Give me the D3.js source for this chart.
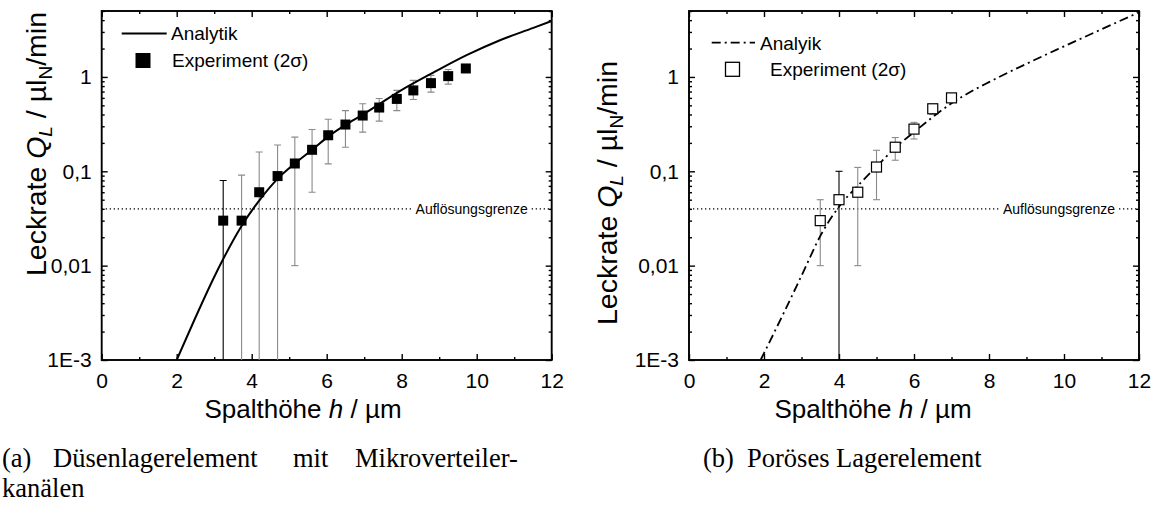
<!DOCTYPE html>
<html>
<head>
<meta charset="utf-8">
<script src="https://cdn.jsdelivr.net/npm/d3@7"></script>
<style>
  body { margin: 0; background: #fff; }
  svg { display: block; }
</style>
</head>
<body>
<svg id="fig" width="1158" height="512"></svg>
<script>
// ---- Axis ticks -------------------------------------------------------
const xMajorTicks = [0, 2, 4, 6, 8, 10, 12];
const xMinorTicks = [1, 3, 5, 7, 9, 11];
const yMajorTicks = [0.001, 0.01, 0.1, 1];
const yTickLabels = ["1E-3", "0,01", "0,1", "1"];
const resolutionLimit = 0.04;   // Auflösungsgrenze

// ---- (a) Düsenlagerelement: measurement (2σ bars; lower bound 0 = below scale)
const hA  = [3.24, 3.73, 4.2, 4.69, 5.15, 5.61, 6.04, 6.5, 6.96, 7.4, 7.87, 8.31, 8.78, 9.24, 9.71];
const qA  = [0.03, 0.03, 0.06, 0.089, 0.121, 0.169, 0.241, 0.313, 0.39, 0.474, 0.585, 0.72, 0.86, 1.02, 1.23];
const upA = [0.08, 0.091, 0.16, 0.19, 0.23, 0.277, 0.356, 0.44, 0.52, 0.59, 0.72, 0.92, 1.04, 1.2, 1.27];
const loA = [0, 0, 0, 0, 0.01, 0.06, 0.12, 0.18, 0.26, 0.34, 0.44, 0.576, 0.69, 0.84, 1.19];
// (a) analytical leak rate
const curveAh = [2.0, 2.5, 3.0, 3.24, 3.73, 4.2, 4.69, 5.15, 5.61, 6.04, 6.5, 6.96, 7.95, 8.84, 9.73, 10.62, 11.51, 12.0];
const curveAq = [0.001, 0.00282, 0.00759, 0.01175, 0.0263, 0.049, 0.0832, 0.121, 0.169, 0.233, 0.31, 0.398, 0.708, 1.11, 1.70, 2.45, 3.31, 3.92];

// ---- (b) Poröses Lagerelement
const hB  = [3.5, 4.0, 4.5, 5.0, 5.5, 6.0, 6.5, 7.0];
const qB  = [0.03, 0.05, 0.06, 0.111, 0.18, 0.28, 0.46, 0.6];
const upB = [0.05, 0.1, 0.11, 0.167, 0.228, 0.33, 0.51, 0.63];
const loB = [0.01, 0, 0.01, 0.05, 0.131, 0.22, 0.40, 0.57];
const curveBh = [1.91, 2.5, 3.0, 3.51, 4.01, 4.51, 5.0, 5.5, 6.0, 6.5, 7.0, 7.5, 8.0, 9.0, 10.0, 11.0, 12.0];
const curveBq = [0.001, 0.0030, 0.0078, 0.0209, 0.0427, 0.0708, 0.112, 0.178, 0.260, 0.376, 0.525, 0.692, 0.881, 1.38, 2.11, 3.20, 4.84];

// ---- Layout ------------------------------------------------------------
const SANS = "Arial, 'Liberation Sans', Helvetica, sans-serif";
const SERIF = "'Times New Roman', 'Liberation Serif', Times, serif";
const PLOT_W = 450, PLOT_TOP = 11, PLOT_BOTTOM = 360;

const svg = d3.select("#fig");
svg.append("rect").attr("width", 1158).attr("height", 512).attr("fill", "#fff");

const yMinorTicks = [];
[-3, -2, -1, 0].forEach(k => {
  for (let m = 2; m <= 9; m++) {
    const v = m * Math.pow(10, k);
    if (v <= 5) yMinorTicks.push(+v.toPrecision(3));
  }
});

function styleAxis(sel, fontSize) {
  sel.select(".domain").remove();
  sel.selectAll("line").attr("stroke", "#000").attr("stroke-width", 1.4);
  sel.selectAll("text").attr("font-family", SANS).attr("font-size", fontSize).attr("fill", "#000");
}

function drawPanel(cfg) {
  const x = d3.scaleLinear().domain([0, 12]).range([cfg.left, cfg.left + PLOT_W]);
  const y = d3.scaleLog().domain([1e-3, 5]).range([PLOT_BOTTOM, PLOT_TOP]);
  const g = svg.append("g");
  const yBottom = y.range()[0];
  const yOf = v => (v > 0 && v >= 1e-3) ? y(v) : yBottom;

  const clipId = "clip-" + cfg.id;
  g.append("clipPath").attr("id", clipId).append("rect")
    .attr("x", cfg.left).attr("y", PLOT_TOP).attr("width", PLOT_W).attr("height", PLOT_BOTTOM - PLOT_TOP);

  // axes with inward ticks on all four sides
  g.append("g").attr("transform", `translate(0,${PLOT_BOTTOM})`)
    .call(d3.axisBottom(x).tickValues(xMajorTicks).tickSize(-6).tickPadding(13).tickFormat(d3.format("d")))
    .call(s => styleAxis(s, 21));
  g.append("g").attr("transform", `translate(0,${PLOT_BOTTOM})`)
    .call(d3.axisBottom(x).tickValues(xMinorTicks).tickSize(-3).tickFormat(""))
    .call(s => styleAxis(s, 21));
  g.append("g").attr("transform", `translate(0,${PLOT_TOP})`)
    .call(d3.axisTop(x).tickValues(xMajorTicks).tickSize(-6).tickFormat(""))
    .call(s => styleAxis(s, 21));
  g.append("g").attr("transform", `translate(0,${PLOT_TOP})`)
    .call(d3.axisTop(x).tickValues(xMinorTicks).tickSize(-3).tickFormat(""))
    .call(s => styleAxis(s, 21));
  g.append("g").attr("transform", `translate(${cfg.left},0)`)
    .call(d3.axisLeft(y).tickValues(yMajorTicks).tickSize(-6).tickPadding(10)
      .tickFormat(d => yTickLabels[yMajorTicks.indexOf(d)]))
    .call(s => styleAxis(s, 21));
  g.append("g").attr("transform", `translate(${cfg.left},0)`)
    .call(d3.axisLeft(y).tickValues(yMinorTicks).tickSize(-3).tickFormat(""))
    .call(s => styleAxis(s, 21));
  g.append("g").attr("transform", `translate(${cfg.left + PLOT_W},0)`)
    .call(d3.axisRight(y).tickValues(yMajorTicks).tickSize(-6).tickFormat(""))
    .call(s => styleAxis(s, 21));
  g.append("g").attr("transform", `translate(${cfg.left + PLOT_W},0)`)
    .call(d3.axisRight(y).tickValues(yMinorTicks).tickSize(-3).tickFormat(""))
    .call(s => styleAxis(s, 21));

  g.append("rect")
    .attr("x", cfg.left).attr("y", PLOT_TOP).attr("width", PLOT_W).attr("height", PLOT_BOTTOM - PLOT_TOP)
    .attr("fill", "none").attr("stroke", "#000").attr("stroke-width", 1.9);

  // resolution limit: dotted line interrupted by its label
  const yl = y(resolutionLimit);
  const lbl = g.append("text")
    .attr("x", cfg.left + PLOT_W - 24).attr("y", yl).attr("dy", "0.35em")
    .attr("text-anchor", "end").attr("font-family", SANS).attr("font-size", 14)
    .text("Auflösungsgrenze");
  const lw = lbl.node().getComputedTextLength();
  const lblStart = cfg.left + PLOT_W - 24 - lw;
  [[cfg.left, lblStart - 3], [cfg.left + PLOT_W - 20, cfg.left + PLOT_W]].forEach(([a, b]) => {
    g.append("line").attr("x1", a).attr("x2", b).attr("y1", yl).attr("y2", yl)
      .attr("stroke", "#000").attr("stroke-width", 1.2).attr("stroke-dasharray", "1.3,2.7");
  });

  const plot = g.append("g").attr("clip-path", `url(#${clipId})`);

  // 2σ error bars
  const data = cfg.h.map((h, i) => ({ h, q: cfg.q[i], up: cfg.up[i], lo: cfg.lo[i], i }));
  const eb = plot.append("g").selectAll("g").data(data).join("g")
    .attr("stroke", d => cfg.darkBars.includes(d.i) ? "#000" : "#8a8a8a").attr("stroke-width", 1.1);
  eb.append("line")
    .attr("x1", d => x(d.h)).attr("x2", d => x(d.h))
    .attr("y1", d => y(d.up)).attr("y2", d => yOf(d.lo));
  eb.append("line")
    .attr("x1", d => x(d.h) - 3.5).attr("x2", d => x(d.h) + 3.5)
    .attr("y1", d => y(d.up)).attr("y2", d => y(d.up));
  eb.filter(d => d.lo >= 1e-3).append("line")
    .attr("x1", d => x(d.h) - 3.5).attr("x2", d => x(d.h) + 3.5)
    .attr("y1", d => y(d.lo)).attr("y2", d => y(d.lo));

  // analytical curve
  const pts = cfg.ch.map((h, i) => [h, cfg.cq[i]]);
  plot.append("path").datum(pts)
    .attr("d", d3.line().x(d => x(d[0])).y(d => y(d[1])).curve(d3.curveMonotoneX))
    .attr("fill", "none").attr("stroke", "#000").attr("stroke-width", cfg.lineWidth)
    .attr("stroke-dasharray", cfg.dash);

  // measured points
  const S = 10;
  plot.append("g").selectAll("rect").data(data).join("rect")
    .attr("x", d => x(d.h) - S / 2).attr("y", d => y(d.q) - S / 2)
    .attr("width", S).attr("height", S)
    .attr("fill", cfg.filled ? "#000" : "#fff").attr("stroke", "#000")
    .attr("stroke-width", cfg.filled ? 0 : 1.2);

  // legend
  const lg = g.append("g");
  lg.append("line").attr("x1", cfg.legLine[0]).attr("x2", cfg.legLine[1])
    .attr("y1", cfg.legY1).attr("y2", cfg.legY1)
    .attr("stroke", "#000").attr("stroke-width", cfg.lineWidth).attr("stroke-dasharray", cfg.dash);
  lg.append("text").attr("x", cfg.legText1X).attr("y", cfg.legY1).attr("dy", "0.36em")
    .attr("font-family", SANS).attr("font-size", 19).text(cfg.lineName);
  const ms = cfg.legMarkSize;
  lg.append("rect").attr("x", cfg.legMarkX - ms / 2).attr("y", cfg.legY2 - ms / 2)
    .attr("width", ms).attr("height", ms)
    .attr("fill", cfg.filled ? "#000" : "#fff").attr("stroke", "#000")
    .attr("stroke-width", cfg.filled ? 0 : 1.3);
  lg.append("text").attr("x", cfg.legText2X).attr("y", cfg.legY2).attr("dy", "0.36em")
    .attr("font-family", SANS).attr("font-size", 19).text("Experiment (2σ)");

  // axis titles
  const xt = g.append("text").attr("x", cfg.xTitleX).attr("y", 418)
    .attr("text-anchor", "middle").attr("font-family", SANS).attr("font-size", 26);
  xt.append("tspan").text("Spalthöhe ");
  xt.append("tspan").attr("font-style", "italic").text("h");
  xt.append("tspan").text(" / µm");

  const yt = g.append("text")
    .attr("transform", `translate(${cfg.yTitleX},${cfg.yTitleY}) rotate(-90)`)
    .attr("text-anchor", "middle").attr("font-family", SANS).attr("font-size", 28.5);
  yt.append("tspan").text("Leckrate ");
  yt.append("tspan").attr("font-style", "italic").text("Q");
  yt.append("tspan").attr("font-style", "italic").attr("font-size", 19).attr("dy", 6).text("L");
  yt.append("tspan").attr("dy", -6).text(" / µl");
  yt.append("tspan").attr("font-size", 19).attr("dy", 6).text("N");
  yt.append("tspan").attr("dy", -6).text("/min");
}

drawPanel({
  id: "a", left: 101.7, h: hA, q: qA, up: upA, lo: loA, ch: curveAh, cq: curveAq,
  filled: true, darkBars: [0], dash: null, lineWidth: 2, lineName: "Analytik",
  legLine: [121.7, 166.7], legY1: 33.5, legText1X: 171, legMarkX: 143, legY2: 60.5,
  legMarkSize: 15, legText2X: 172, xTitleX: 303, yTitleX: 46, yTitleY: 144
});
drawPanel({
  id: "b", left: 689, h: hB, q: qB, up: upB, lo: loB, ch: curveBh, cq: curveBq,
  filled: false, darkBars: [1], dash: "9,4,2,4", lineWidth: 1.8, lineName: "Analyik",
  legLine: [711.7, 755], legY1: 42.7, legText1X: 760, legMarkX: 732.5, legY2: 69.3,
  legMarkSize: 14, legText2X: 770, xTitleX: 873, yTitleX: 617, yTitleY: 193
});

// ---- sub-captions -------------------------------------------------------
const cap = svg.append("g").attr("font-family", SERIF).attr("font-size", 26.5).attr("fill", "#000");
[["(a)", 2], ["Düsenlagerelement", 53], ["mit", 293], ["Mikroverteiler-", 355]].forEach(([t, xx]) => {
  cap.append("text").attr("x", xx).attr("y", 467).text(t);
});
cap.append("text").attr("x", 2).attr("y", 497).text("kanälen");
cap.append("text").attr("x", 703).attr("y", 467).text("(b)");
cap.append("text").attr("x", 747).attr("y", 467).text("Poröses Lagerelement");
</script>
</body>
</html>
